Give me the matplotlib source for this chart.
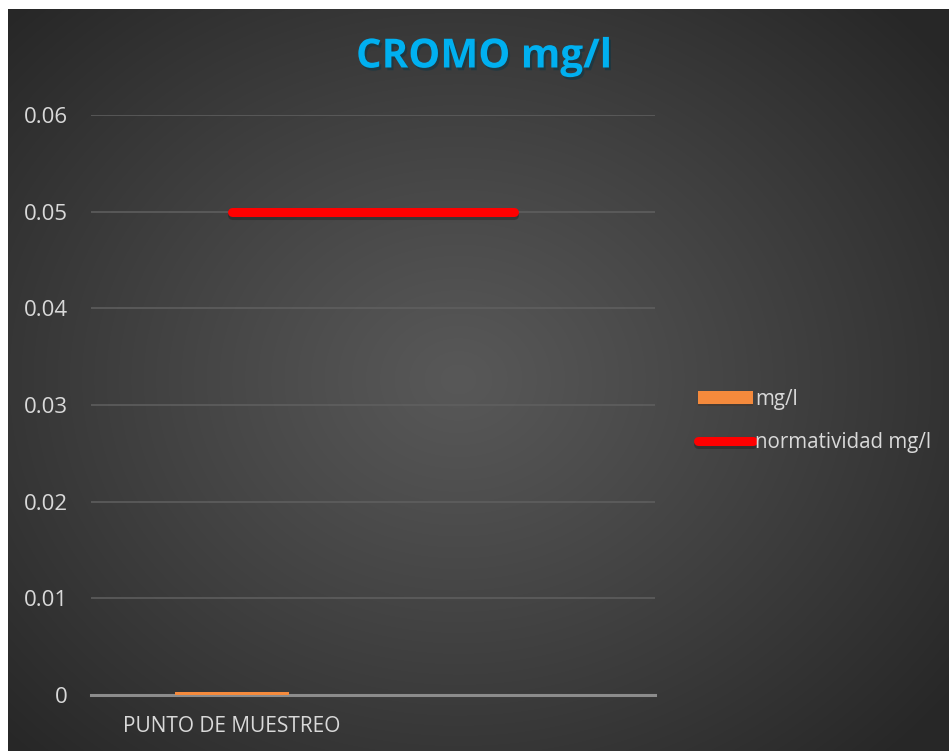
import numpy as np
import matplotlib.pyplot as plt
import matplotlib.patheffects as pe

# datos de cromo
categorias = ["PUNTO DE MUESTREO", ""]
cromo_mg_l = [0.0003, 0.0]
normatividad_mg_l = [0.05, 0.05]

W, H = 949, 751
fig = plt.figure(figsize=(W / 100, H / 100), dpi=100)
fig.patch.set_facecolor("white")

# fondo con degradado radial
bg = fig.add_axes([8 / W, 0, 941 / W, 742 / H])
bg.set_axis_off()
yy, xx = np.mgrid[0:742, 0:941]
cx, cy = 450, 370
r = np.sqrt(((xx - cx) / 620) ** 2 + ((yy - cy) / 520) ** 2)
r = np.clip(r, 0, 1)
shade = 0.345 - (0.345 - 0.155) * r ** 1.1
img = np.dstack([shade, shade, shade])
bg.imshow(img, aspect="auto", interpolation="bilinear")

ax = fig.add_axes([91 / W, (H - 695) / H, (655 - 91) / W, (695 - 115) / H])
ax.set_facecolor("none")

x = np.arange(len(categorias))
barras = ax.bar(x, cromo_mg_l, width=0.405, color="#F58A3C", label="mg/l", zorder=3,
                path_effects=[pe.SimplePatchShadow(offset=(0, -1), alpha=0.3), pe.Normal()])
linea, = ax.plot(x, normatividad_mg_l, color="#FF0000", lw=6.5, solid_capstyle="round",
                 label="normatividad mg/l", zorder=4,
                 path_effects=[pe.SimpleLineShadow(offset=(0, -2.5), alpha=0.25,
                                                   shadow_color="black"),
                               pe.Normal()])

ax.set_xlim(-0.5, 1.5)
ax.set_ylim(0, 0.06)
ax.set_yticks([0, 0.01, 0.02, 0.03, 0.04, 0.05, 0.06])
ax.set_yticklabels(["0", "0.01", "0.02", "0.03", "0.04", "0.05", "0.06"])
ax.set_xticks(x)
ax.set_xticklabels(categorias)

ax.grid(axis="y", color="#606060", lw=1.1, zorder=0)
ax.set_axisbelow(True)
for s in ["top", "right", "left"]:
    ax.spines[s].set_visible(False)
ax.spines["bottom"].set_color("#8c8c8c")
ax.spines["bottom"].set_linewidth(2.2)
ax.spines["bottom"].set_zorder(2)

ax.tick_params(axis="both", length=0, colors="#d9d9d9", labelsize=16)
ax.tick_params(axis="y", pad=16.5)
ax.tick_params(axis="x", pad=15)
for lab in ax.get_xticklabels() + ax.get_yticklabels():
    lab.set_family("Open Sans")
ax.get_xticklabels()[0].set_fontsize(15)

fig.text(484 / W, 1 - 57 / H, "CROMO mg/l", ha="center", va="center",
         fontsize=29, fontweight="bold", family="Open Sans", color="#00B0F0",
         path_effects=[pe.withSimplePatchShadow(offset=(1.5, -2), alpha=0.45)])

leg = ax.legend([barras, linea], ["mg/l", "normatividad mg/l"],
                loc="center left", bbox_to_anchor=(679 / W, 1 - 421 / H),
                bbox_transform=fig.transFigure, frameon=False,
                prop={"family": "Open Sans", "size": 14.8}, labelcolor="#d9d9d9",
                handlelength=2.7, handletextpad=0.1, labelspacing=1.05,
                handleheight=0.6)

fig.savefig("out.png", dpi=100, facecolor=fig.get_facecolor())
